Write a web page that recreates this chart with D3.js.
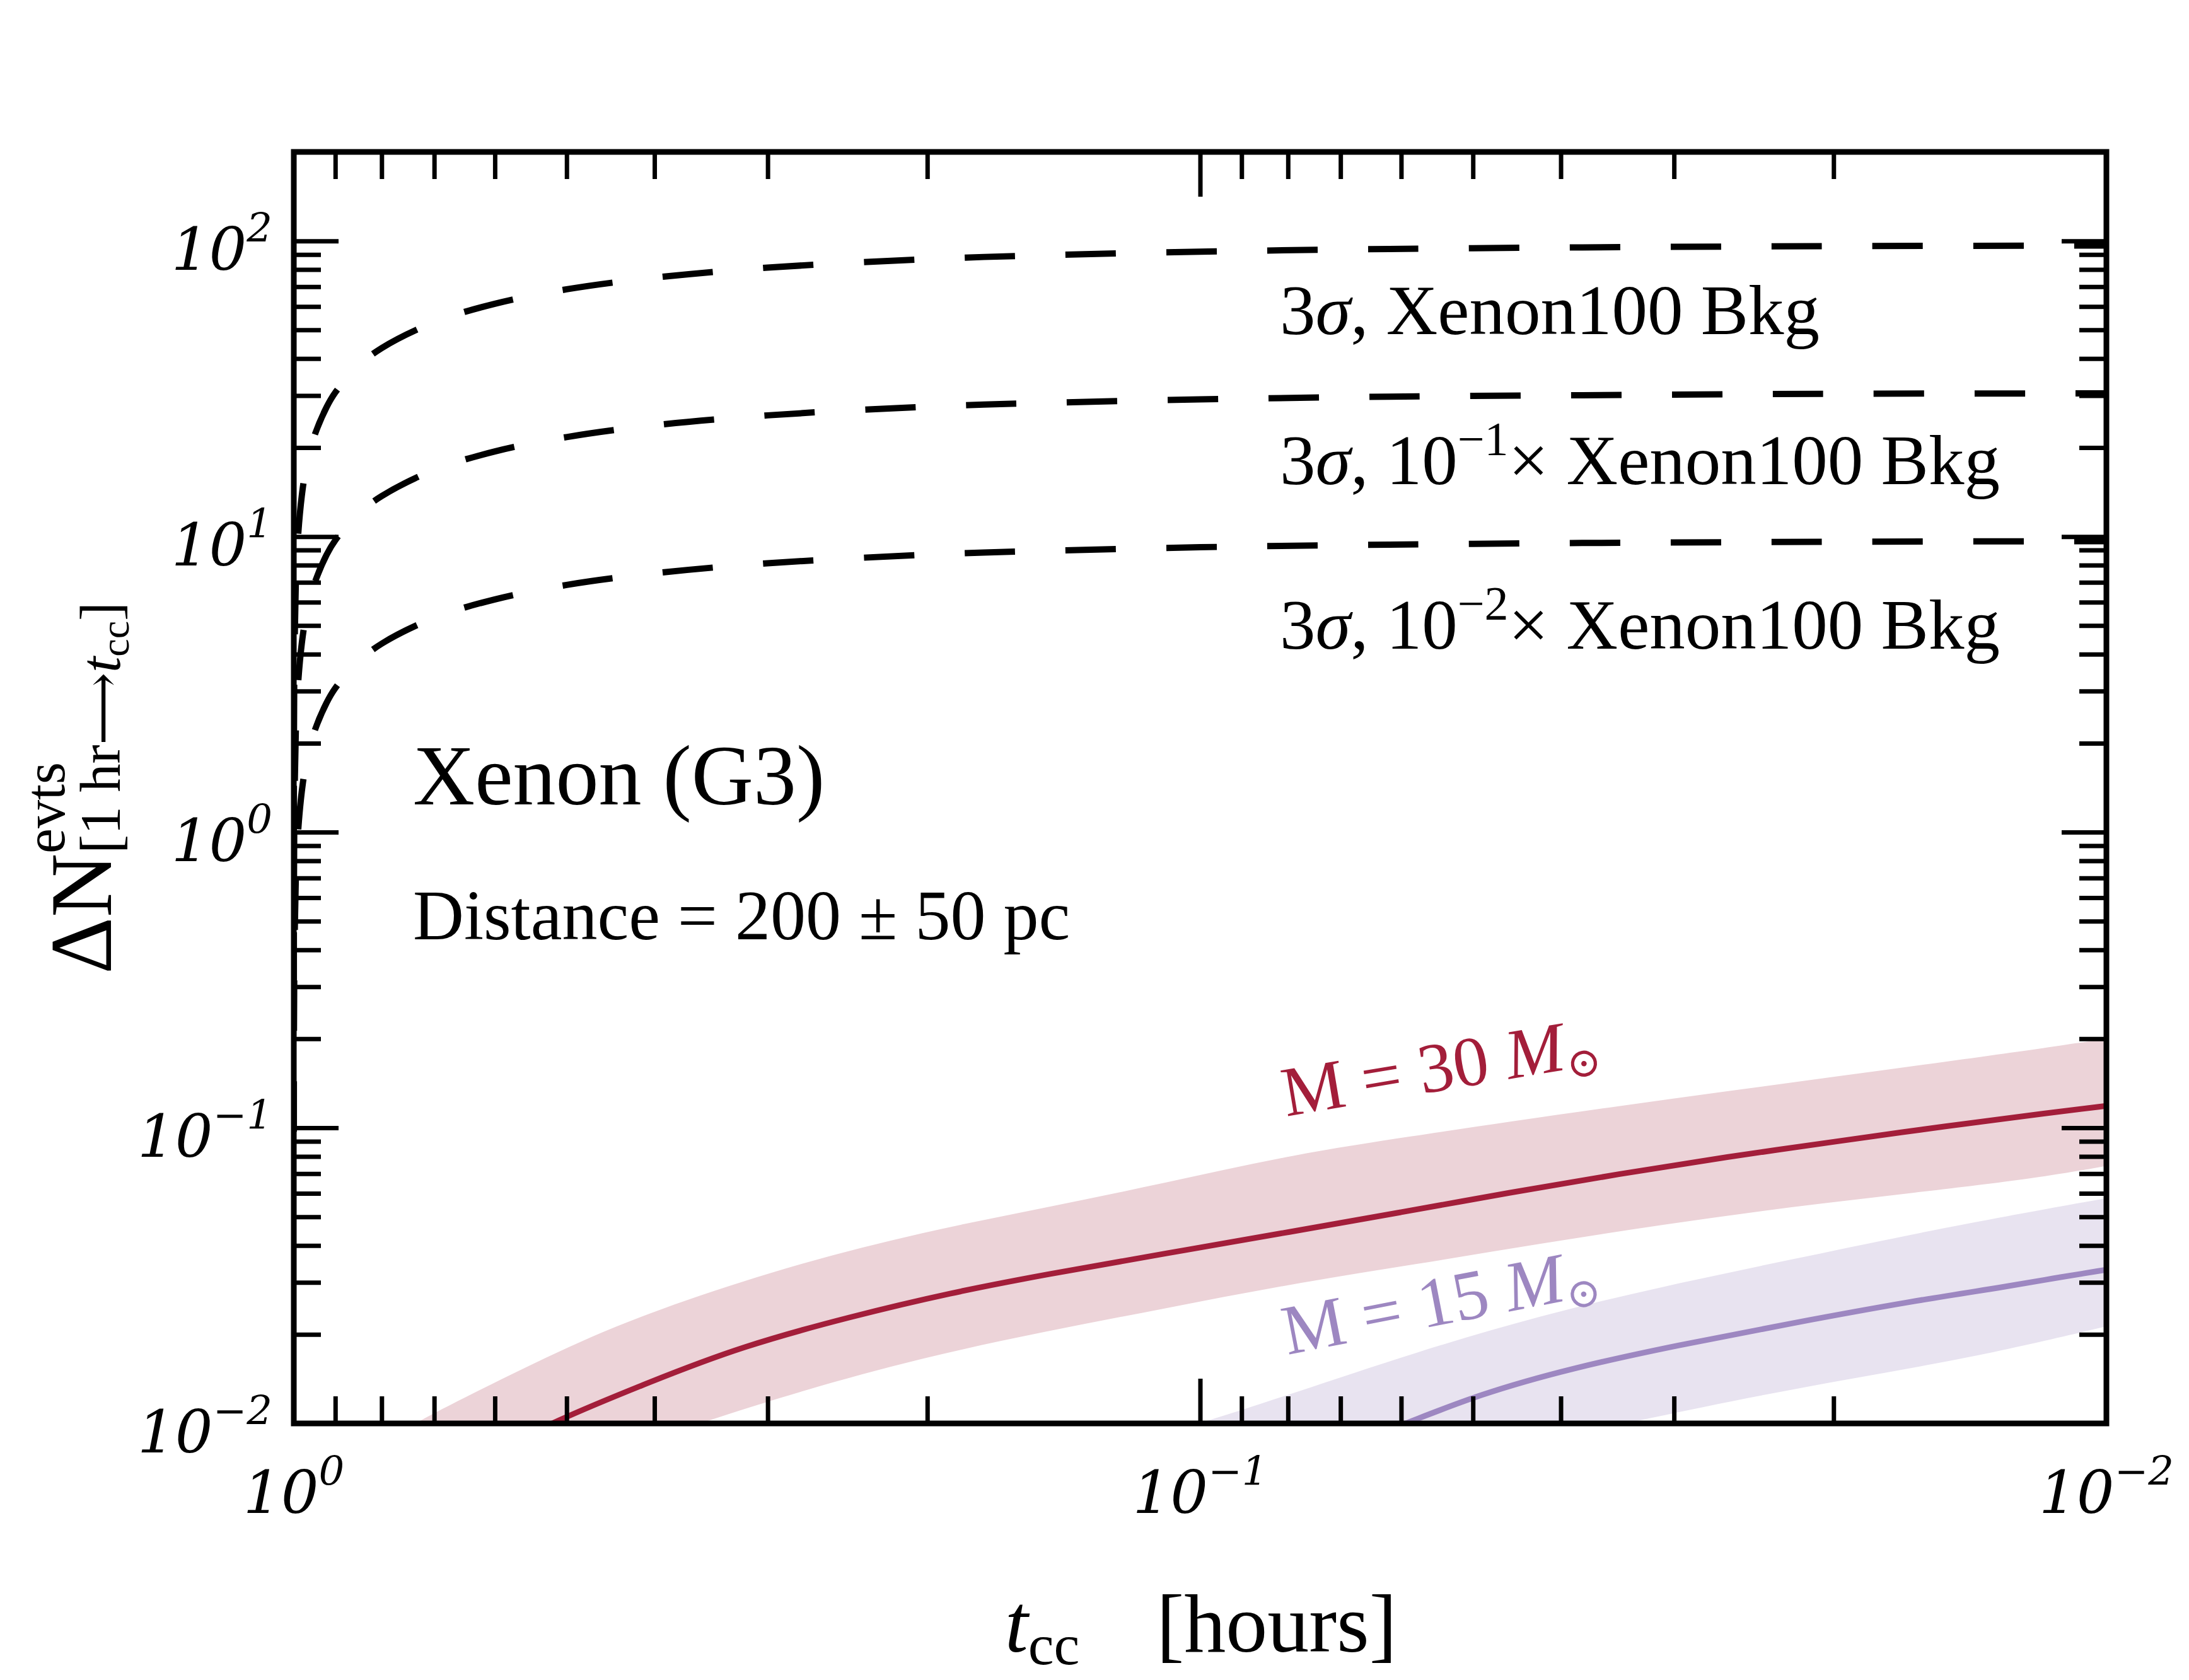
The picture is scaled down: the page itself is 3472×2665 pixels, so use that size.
<!DOCTYPE html>
<html>
<head>
<meta charset="utf-8">
<script src="https://cdn.jsdelivr.net/npm/d3@7"></script>
<style>
  html, body { margin: 0; padding: 0; background: #fff; }
  svg { display: block; }
</style>
</head>
<body>
<svg id="chart"></svg>
<script>
const WIDTH = 3472;
const HEIGHT = 2665;
const PLOT_LEFT = 466;
const PLOT_RIGHT = 3341;
const PLOT_TOP = 241;
const PLOT_BOTTOM = 2258;
const SERIF = "'Liberation Serif', 'Times New Roman', 'DejaVu Serif', serif";
const TICK_FONT = "'DejaVu Serif', serif";

// tick values
const xMajorTicks = [1, 0.1, 0.01];
const xMinorTicks = [0.9, 0.8, 0.7, 0.6, 0.5, 0.4, 0.3, 0.2, 0.09, 0.08, 0.07, 0.06, 0.05, 0.04, 0.03, 0.02];
const yMajorTicks = [0.01, 0.1, 1, 10, 100];
const yMinorTicks = [0.02, 0.03, 0.04, 0.05, 0.06, 0.07, 0.08, 0.09, 0.2, 0.3, 0.4, 0.5, 0.6, 0.7, 0.8, 0.9,
                     2, 3, 4, 5, 6, 7, 8, 9, 20, 30, 40, 50, 60, 70, 80, 90];
const xTickExponents = ['0', '\u22121', '\u22122'];
const yTickExponents = ['\u22122', '\u22121', '0', '1', '2'];

// 3 sigma thresholds (dashed)
const bkgT = [0.9999, 0.999, 0.995, 0.99, 0.98, 0.97, 0.95, 0.92, 0.9, 0.85, 0.8, 0.7, 0.6, 0.5, 0.4, 0.3, 0.2, 0.15, 0.1, 0.07, 0.05, 0.03, 0.02, 0.01];
const bkgFull = [0.97, 3.07, 6.86, 9.7, 13.7, 16.8, 21.7, 27.4, 30.7, 37.6, 43.4, 53.1, 61.3, 68.6, 75.1, 81.2, 86.8, 89.4, 92.0, 93.5, 94.5, 95.5, 96.0, 96.5];
const bkgTenth = [0.31, 0.97, 2.17, 3.07, 4.34, 5.32, 6.86, 8.68, 9.71, 11.9, 13.7, 16.8, 19.4, 21.7, 23.8, 25.7, 27.5, 28.3, 29.1, 29.6, 29.9, 30.2, 30.4, 30.5];
const bkgHundredth = [0.097, 0.31, 0.69, 0.97, 1.37, 1.68, 2.17, 2.74, 3.07, 3.76, 4.34, 5.31, 6.13, 6.86, 7.51, 8.12, 8.68, 8.94, 9.20, 9.35, 9.45, 9.55, 9.60, 9.65];
const bkgLabels = ['Xenon100 Bkg', '\u22121', '\u22122'];

// M = 30 Msun: central curve and 150 / 250 pc band edges
const m30T = [0.60, 0.519, 0.403, 0.321, 0.243, 0.188, 0.149, 0.109, 0.0791, 0.0600, 0.0455, 0.0345, 0.0262, 0.0199, 0.0151, 0.01146, 0.01];
const m30Mid = [0.0080, 0.0101, 0.0139, 0.0182, 0.0230, 0.0277, 0.0318, 0.0376, 0.0446, 0.0518, 0.0604, 0.0698, 0.0798, 0.0898, 0.1012, 0.1128, 0.1186];
const m30HiT = [0.85, 0.733, 0.591, 0.470, 0.374, 0.2754, 0.2025, 0.1491, 0.1093, 0.0791, 0.0579, 0.0455, 0.0345, 0.0262, 0.0199, 0.0151, 0.01146, 0.01];
const m30Hi = [0.0078, 0.0101, 0.0141, 0.0198, 0.0259, 0.0350, 0.0444, 0.0535, 0.0650, 0.0812, 0.0940, 0.1050, 0.1185, 0.1330, 0.1490, 0.167, 0.188, 0.200];
const m30LoT = [0.44, 0.354, 0.2754, 0.2025, 0.1491, 0.1093, 0.0791, 0.0579, 0.0421, 0.0307, 0.0223, 0.0163, 0.0119, 0.01];
const m30Lo = [0.0080, 0.0101, 0.0129, 0.0167, 0.0204, 0.0245, 0.0297, 0.0345, 0.0406, 0.0472, 0.0540, 0.0603, 0.0676, 0.0743];

// M = 15 Msun
const m15T = [0.072, 0.0592, 0.0494, 0.0389, 0.0297, 0.0223, 0.0163, 0.0129, 0.0115, 0.01];
const m15Mid = [0.0080, 0.0100, 0.0125, 0.0154, 0.0184, 0.0218, 0.0260, 0.0290, 0.0309, 0.0331];
const m15HiT = [0.13, 0.0991, 0.0793, 0.0579, 0.0421, 0.0307, 0.0223, 0.0163, 0.0129, 0.01];
const m15Hi = [0.0080, 0.01005, 0.0126, 0.0174, 0.0232, 0.0292, 0.0358, 0.0438, 0.0502, 0.0578];
const m15LoT = [0.046, 0.0337, 0.0262, 0.0191, 0.0139, 0.01];
const m15Lo = [0.0082, 0.01005, 0.01185, 0.0142, 0.0168, 0.0213];

const COLOR_RED = '#a31e3a';
const COLOR_RED_BAND = '#ecd3d8';
const COLOR_PURPLE = '#9d87c1';
const COLOR_PURPLE_BAND = '#e8e3f0';

const svg = d3.select('#chart').attr('width', WIDTH).attr('height', HEIGHT);
svg.append('rect').attr('width', WIDTH).attr('height', HEIGHT).attr('fill', '#fff');

const x = d3.scaleLog().domain([1, 0.01]).range([PLOT_LEFT, PLOT_RIGHT]);
const y = d3.scaleLog().domain([0.01, 200]).range([PLOT_BOTTOM, PLOT_TOP]);

svg.append('clipPath').attr('id', 'plotClip')
    .append('rect')
    .attr('x', PLOT_LEFT).attr('y', PLOT_TOP)
    .attr('width', PLOT_RIGHT - PLOT_LEFT).attr('height', PLOT_BOTTOM - PLOT_TOP);

const plot = svg.append('g').attr('clip-path', 'url(#plotClip)');

// dashed curves pass through their points; the signal curves are read
// off the picture point by point, so a B-spline keeps them smooth
const line = d3.line()
    .x(d => x(d[0]))
    .y(d => y(d[1]))
    .curve(d3.curveCatmullRom.alpha(0.5));
const smooth = d3.line()
    .x(d => x(d[0]))
    .y(d => y(d[1]))
    .curve(d3.curveBasis);

const zip = (ts, vs) => ts.map((t, i) => [t, vs[i]]);

function band(hiT, hi, loT, lo, color) {
    const upper = smooth(zip(hiT, hi));
    const lower = smooth(zip(loT, lo).reverse());
    plot.append('path')
        .attr('d', upper + 'L' + lower.slice(1) + 'Z')
        .attr('fill', color)
        .attr('stroke', 'none');
}

// bands
band(m30HiT, m30Hi, m30LoT, m30Lo, COLOR_RED_BAND);
band(m15HiT, m15Hi, m15LoT, m15Lo, COLOR_PURPLE_BAND);

// central lines
plot.append('path').attr('d', smooth(zip(m30T, m30Mid)))
    .attr('fill', 'none').attr('stroke', COLOR_RED).attr('stroke-width', 9);
plot.append('path').attr('d', smooth(zip(m15T, m15Mid)))
    .attr('fill', 'none').attr('stroke', COLOR_PURPLE).attr('stroke-width', 9);

// dashed background thresholds
[bkgFull, bkgTenth, bkgHundredth].forEach(function (vals) {
    plot.append('path').attr('d', line(zip(bkgT, vals)))
        .attr('fill', 'none')
        .attr('stroke', '#000')
        .attr('stroke-width', 10)
        .attr('stroke-dasharray', '80,80');
});

// ticks, all four sides, pointing inward
function tickAxis(axis, values, size, transform) {
    const g = svg.append('g')
        .attr('transform', transform)
        .call(axis.tickValues(values).tickSize(-size).tickFormat(''));
    g.select('.domain').remove();
    g.selectAll('.tick line').attr('stroke', '#000').attr('stroke-width', 7);
}
tickAxis(d3.axisBottom(x), xMajorTicks, 71, 'translate(0,' + PLOT_BOTTOM + ')');
tickAxis(d3.axisBottom(x), xMinorTicks, 43, 'translate(0,' + PLOT_BOTTOM + ')');
tickAxis(d3.axisTop(x), xMajorTicks, 71, 'translate(0,' + PLOT_TOP + ')');
tickAxis(d3.axisTop(x), xMinorTicks, 43, 'translate(0,' + PLOT_TOP + ')');
tickAxis(d3.axisLeft(y), yMajorTicks, 71, 'translate(' + PLOT_LEFT + ',0)');
tickAxis(d3.axisLeft(y), yMinorTicks, 43, 'translate(' + PLOT_LEFT + ',0)');
tickAxis(d3.axisRight(y), yMajorTicks, 71, 'translate(' + PLOT_RIGHT + ',0)');
tickAxis(d3.axisRight(y), yMinorTicks, 43, 'translate(' + PLOT_RIGHT + ',0)');

// frame
svg.append('rect')
    .attr('x', PLOT_LEFT).attr('y', PLOT_TOP)
    .attr('width', PLOT_RIGHT - PLOT_LEFT).attr('height', PLOT_BOTTOM - PLOT_TOP)
    .attr('fill', 'none').attr('stroke', '#000').attr('stroke-width', 9);

// power-of-ten tick labels
function powerLabel(sel, exp) {
    sel.attr('font-family', TICK_FONT).attr('font-style', 'italic').attr('font-size', 94).attr('fill', '#000');
    sel.append('tspan').text('10');
    sel.append('tspan').attr('font-size', 64).attr('dy', -44).text(exp);
}
yMajorTicks.forEach(function (v, i) {
    const t = svg.append('text')
        .attr('x', 432).attr('y', y(v) + 46)
        .attr('text-anchor', 'end');
    powerLabel(t, yTickExponents[i]);
});
xMajorTicks.forEach(function (v, i) {
    const t = svg.append('text')
        .attr('x', x(v)).attr('y', 2400)
        .attr('text-anchor', 'middle');
    powerLabel(t, xTickExponents[i]);
});

// x axis title
const xTitle = svg.append('text')
    .attr('x', 1594).attr('y', 2620)
    .attr('font-family', SERIF).attr('font-size', 132).attr('fill', '#000');
xTitle.append('tspan').attr('font-style', 'italic').text('t');
xTitle.append('tspan').attr('font-size', 92).attr('dy', 20).text('cc');
xTitle.append('tspan').attr('dy', -20).attr('dx', 122).text('[hours]');

// y axis title (rotated, stacked super/subscript)
const yTitle = svg.append('g').attr('transform', 'translate(176,1250) rotate(-90)');
const yMain = yTitle.append('text')
    .attr('font-family', SERIF).attr('font-size', 140).attr('fill', '#000')
    .text('\u0394N');
const ySup = yTitle.append('text')
    .attr('font-family', SERIF).attr('font-size', 90).attr('fill', '#000')
    .attr('y', -74).text('evts');
const ySub = yTitle.append('text')
    .attr('font-family', SERIF).attr('font-size', 90).attr('fill', '#000')
    .attr('y', 14);
ySub.append('tspan').text('[1 hr');
ySub.append('tspan').attr('font-family', "'DejaVu Serif', serif").attr('font-size', 80).text('\u27F6');
ySub.append('tspan').attr('font-style', 'italic').text('t');
ySub.append('tspan').attr('font-size', 64).attr('dy', 14).text('cc');
ySub.append('tspan').attr('dy', -14).text(']');
const wMain = yMain.node().getComputedTextLength();
const wScript = Math.max(ySup.node().getComputedTextLength(), ySub.node().getComputedTextLength());
const x0 = -(wMain + wScript) / 2;
yMain.attr('x', x0);
ySup.attr('x', x0 + wMain);
ySub.attr('x', x0 + wMain);

// threshold labels
const legendY = [530, 768, 1029];
legendY.forEach(function (ly, i) {
    const t = svg.append('text')
        .attr('x', 2030).attr('y', ly)
        .attr('font-family', SERIF).attr('font-size', 113).attr('fill', '#000');
    t.append('tspan').text('3');
    t.append('tspan').attr('font-style', 'italic').text('\u03C3');
    t.append('tspan').text(', ');
    if (i === 0) {
        t.append('tspan').text(bkgLabels[0]);
    } else {
        t.append('tspan').text('10');
        t.append('tspan').attr('font-size', 76).attr('dy', -46).text(bkgLabels[i]);
        t.append('tspan').attr('dy', 46).text('\u00D7 Xenon100 Bkg');
    }
});

// annotations
svg.append('text')
    .attr('x', 655).attr('y', 1276)
    .attr('font-family', SERIF).attr('font-size', 136).attr('fill', '#000')
    .text('Xenon (G3)');
svg.append('text')
    .attr('x', 655).attr('y', 1490)
    .attr('font-family', SERIF).attr('font-size', 112).attr('fill', '#000')
    .text('Distance = 200 \u00B1 50 pc');

function massLabel(mass, color, px, py, angle) {
    const t = svg.append('text')
        .attr('transform', 'translate(' + px + ',' + py + ') rotate(' + angle + ')')
        .attr('font-family', SERIF).attr('font-size', 112).attr('fill', color);
    t.append('tspan').text('M = ' + mass + ' ');
    t.append('tspan').attr('font-style', 'italic').text('M');
    t.append('tspan').attr('font-family', "'DejaVu Serif', serif").attr('font-size', 66).attr('dy', 16).text('\u2299');
}
massLabel(30, COLOR_RED, 2040, 1771, -9.5);
massLabel(15, COLOR_PURPLE, 2042, 2149, -11);
</script>
</body>
</html>
